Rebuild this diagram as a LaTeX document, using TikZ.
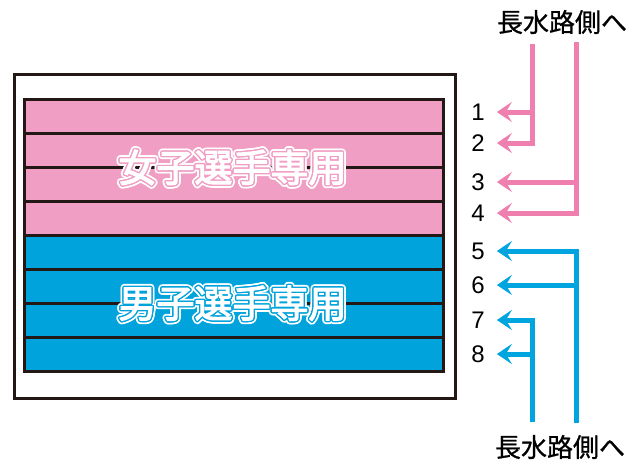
\documentclass[tikz,border=0pt]{standalone}
\usepackage{fontspec}
\setmainfont{Liberation Sans}
\newfontfamily\jp{Noto Sans CJK JP}[FakeBold=0.8]
\newfontfamily\jpheavy{Noto Sans CJK JP}[FakeBold=3]
\usetikzlibrary{arrows.meta}
\definecolor{lanepink}{HTML}{F09EC4}
\definecolor{laneblue}{HTML}{00A3DC}
\definecolor{arrpink}{HTML}{EE7FAF}
\definecolor{arrblue}{HTML}{00A5DF}
\definecolor{ink}{HTML}{231815}
\begin{document}
\begin{tikzpicture}[x=1pt,y=-1pt,
  lane/.style={draw=ink,line width=3pt},
  num/.style={font=\fontsize{24}{24}\selectfont,inner xsep=12pt,inner ysep=2pt},
  guide/.style={line width=5pt,-{Stealth[length=15pt,width=20pt,inset=6pt]}},
  dest/.style={font=\jp\fontsize{26}{26}\selectfont,inner sep=0pt},
  sign/.style={font=\jpheavy\fontsize{38}{38}\selectfont,inner sep=0pt}]
\useasboundingbox (0,0) rectangle (642,459);
\draw[ink,line width=3pt] (14.5,74.5) rectangle (455,398.5);
\foreach \i in {0,...,3}{
  \draw[lane,fill=lanepink] (24.5,99.5+33.94*\i) rectangle ++(419,33.94);
  \draw[lane,fill=laneblue] (24.5,235.3+33.94*\i) rectangle ++(419,33.94);}
\foreach \t/\c/\y in {女子選手専用/lanepink/167.4,男子選手専用/laneblue/303.2}{
  \foreach \a in {0,...,15}
    \node[sign,white] (halo-\c-\a) at ([shift={(\a*22.5:3.2)}]232.5,\y) {\t};
  \foreach \a in {0,...,15}
    \node[sign,\c] (ring-\c-\a) at ([shift={(\a*22.5:1.3)}]232.5,\y) {\t};
  \node[sign,white] (sign-\c) at (232.5,\y) {\t};}
\foreach \n/\y in {1/112,2/143,3/182,4/213,5/251,6/285,7/320,8/354}
  \node[num] (n\n) at (478,\y) {\n};
\node[dest] (desttop) at (562,22) {長水路側へ};
\node[dest] (destbottom) at (560,447) {長水路側へ};
\coordinate (pinner) at (532.5,44);
\coordinate (pouter) at (576,42);
\coordinate (binner) at (532.5,422);
\coordinate (bouter) at (576,423);
\draw[guide,arrpink] (pinner) |- (n1);
\draw[guide,arrpink] (pinner) |- (n2);
\draw[guide,arrpink] (pouter) |- (n3);
\draw[guide,arrpink] (pouter) |- (n4);
\draw[guide,arrblue] (bouter) |- (n5);
\draw[guide,arrblue] (bouter) |- (n6);
\draw[guide,arrblue] (binner) |- (n7);
\draw[guide,arrblue] (binner) |- (n8);
\end{tikzpicture}
\end{document}
